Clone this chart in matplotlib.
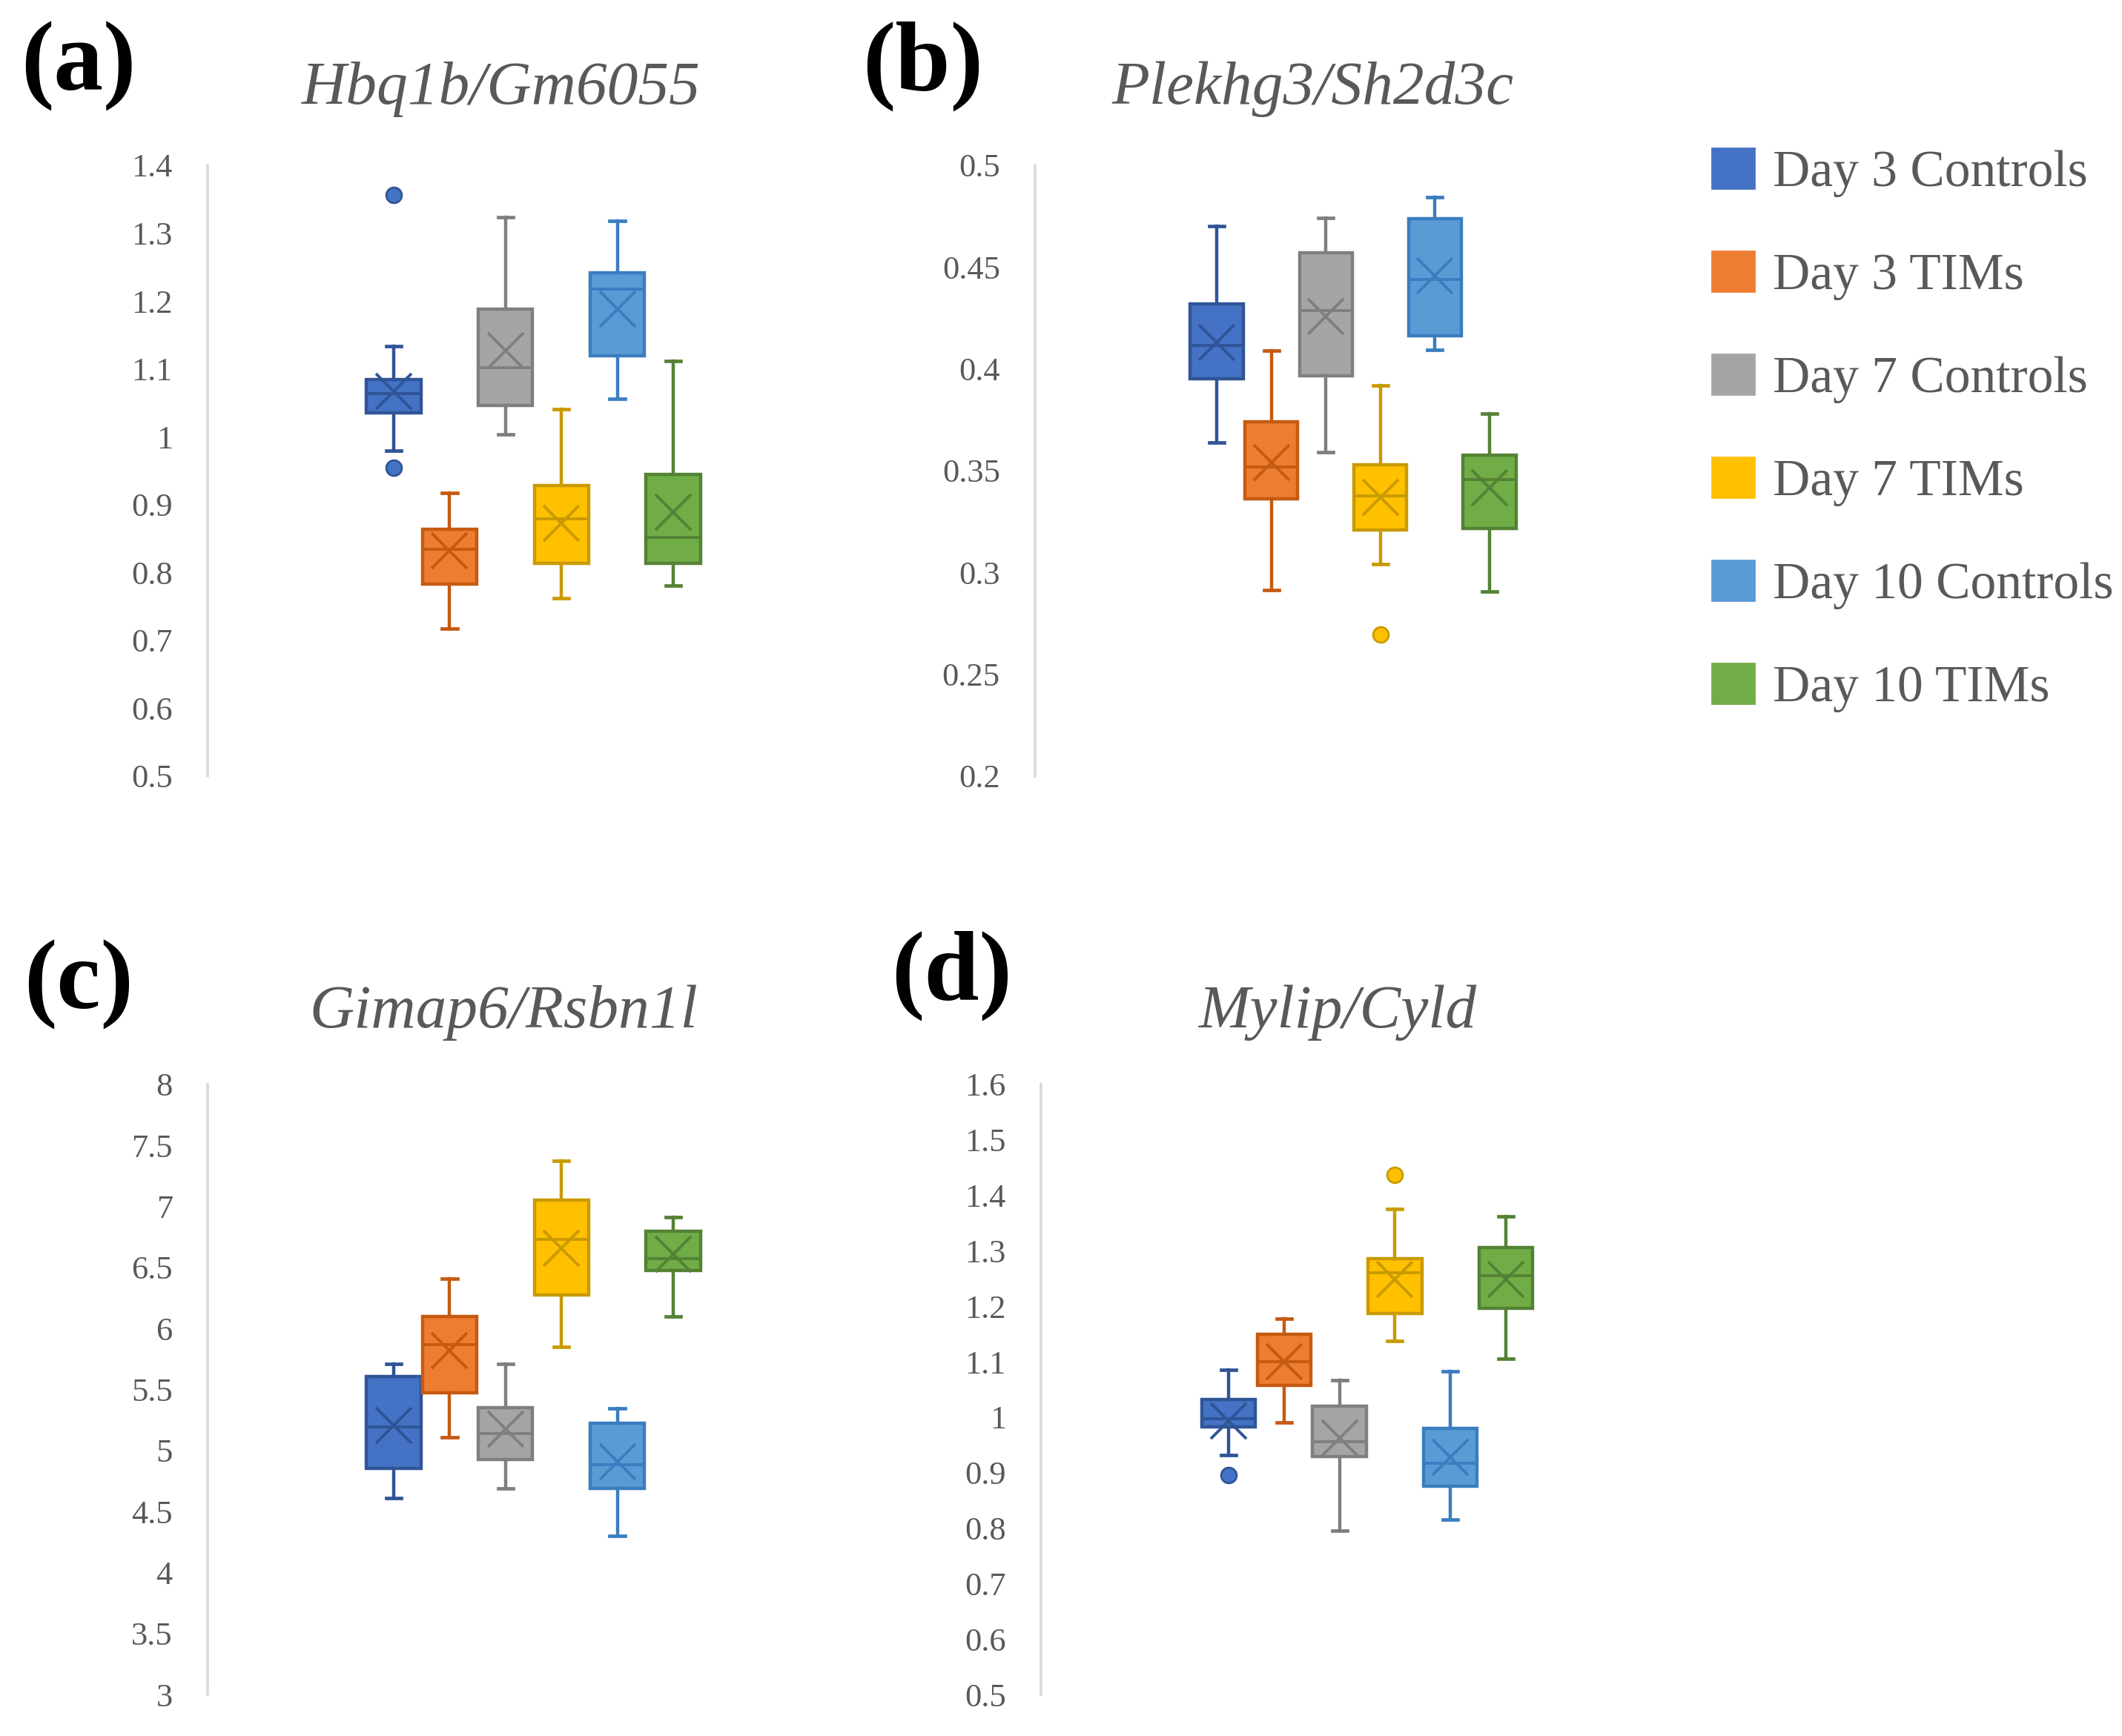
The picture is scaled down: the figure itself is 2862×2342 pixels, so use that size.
import matplotlib
matplotlib.use("Agg")
import matplotlib.pyplot as plt
from matplotlib.patches import Patch

# ---------------- data ----------------
series = ["Day 3 Controls", "Day 3 TIMs", "Day 7 Controls", "Day 7 TIMs",
          "Day 10 Controls", "Day 10 TIMs"]
fills = ["#4472C4", "#ED7D31", "#A5A5A5", "#FFC000", "#5B9BD5", "#70AD47"]
edges = ["#2F5597", "#C55A11", "#7F7F7F", "#C99A00", "#3A7DC0", "#548235"]

titles = ["Hbq1b/Gm6055", "Plekhg3/Sh2d3c", "Gimap6/Rsbn1l", "Mylip/Cyld"]
panel_labels = ["(a)", "(b)", "(c)", "(d)"]

# panel (a)
a_whishi = [1.134, 0.917, 1.324, 1.041, 1.318, 1.112]
a_q3 = [1.084, 0.864, 1.188, 0.928, 1.242, 0.944]
a_med = [1.064, 0.834, 1.102, 0.879, 1.218, 0.852]
a_q1 = [1.035, 0.783, 1.046, 0.814, 1.119, 0.814]
a_whislo = [0.980, 0.717, 1.004, 0.762, 1.056, 0.781]
a_mean = [1.067, 0.832, 1.127, 0.872, 1.188, 0.889]
a_fliers = [[1.356, 0.954], [], [], [], [], []]
a_ticks = [0.5, 0.6, 0.7, 0.8, 0.9, 1.0, 1.1, 1.2, 1.3, 1.4]
a_ticklabels = ["0.5", "0.6", "0.7", "0.8", "0.9", "1", "1.1", "1.2", "1.3", "1.4"]

# panel (b)
b_whishi = [0.470, 0.409, 0.474, 0.392, 0.4845, 0.378]
b_q3 = [0.432, 0.374, 0.457, 0.353, 0.4737, 0.3575]
b_med = [0.4116, 0.352, 0.4287, 0.3377, 0.444, 0.3458]
b_q1 = [0.395, 0.336, 0.3965, 0.321, 0.4164, 0.3216]
b_whislo = [0.364, 0.2915, 0.359, 0.304, 0.4095, 0.2905]
b_mean = [0.413, 0.354, 0.4256, 0.337, 0.4457, 0.3415]
b_fliers = [[], [], [], [0.2694], [], []]
b_ticks = [0.2, 0.25, 0.3, 0.35, 0.4, 0.45, 0.5]
b_ticklabels = ["0.2", "0.25", "0.3", "0.35", "0.4", "0.45", "0.5"]

# panel (c)
c_whishi = [5.712, 6.41, 5.71, 7.377, 5.345, 6.913]
c_q3 = [5.606, 6.10, 5.354, 7.05, 5.226, 6.80]
c_med = [5.195, 5.867, 5.138, 6.728, 4.886, 6.573]
c_q1 = [4.85, 5.47, 4.926, 6.277, 4.69, 6.476]
c_whislo = [4.612, 5.107, 4.687, 5.849, 4.30, 6.10]
c_mean = [5.204, 5.82, 5.173, 6.66, 4.908, 6.61]
c_fliers = [[], [], [], [], [], []]
c_ticks = [3, 3.5, 4, 4.5, 5, 5.5, 6, 6.5, 7, 7.5, 8]
c_ticklabels = ["3", "3.5", "4", "4.5", "5", "5.5", "6", "6.5", "7", "7.5", "8"]

# panel (d)
d_whishi = [1.085, 1.177, 1.067, 1.3755, 1.083, 1.362]
d_q3 = [1.0315, 1.15, 1.02, 1.286, 0.98, 1.306]
d_med = [0.997, 1.10, 0.956, 1.26, 0.917, 1.255]
d_q1 = [0.983, 1.058, 0.929, 1.187, 0.876, 1.197]
d_whislo = [0.932, 0.99, 0.796, 1.138, 0.815, 1.106]
d_mean = [0.993, 1.10, 0.963, 1.248, 0.928, 1.248]
d_fliers = [[0.895], [], [], [1.437], [], []]
d_ticks = [0.5, 0.6, 0.7, 0.8, 0.9, 1.0, 1.1, 1.2, 1.3, 1.4, 1.5, 1.6]
d_ticklabels = ["0.5", "0.6", "0.7", "0.8", "0.9", "1", "1.1", "1.2", "1.3",
                "1.4", "1.5", "1.6"]

panels = [
    (a_whislo, a_q1, a_med, a_q3, a_whishi, a_mean, a_fliers, a_ticks, a_ticklabels),
    (b_whislo, b_q1, b_med, b_q3, b_whishi, b_mean, b_fliers, b_ticks, b_ticklabels),
    (c_whislo, c_q1, c_med, c_q3, c_whishi, c_mean, c_fliers, c_ticks, c_ticklabels),
    (d_whislo, d_q1, d_med, d_q3, d_whishi, d_mean, d_fliers, d_ticks, d_ticklabels),
]

# ---------------- layout (pixels) ----------------
W, H = 2862, 2342
DPI = 200
fig = plt.figure(figsize=(W / DPI, H / DPI), dpi=DPI)
fig.patch.set_facecolor("white")

SERIF = ["Liberation Serif", "DejaVu Serif"]
GRAY_TXT = "#595959"
AX_W = 780

# spine x, top y, bottom y, first box centre x, box spacing (pixels)
geom = [
    (280, 223, 1047, 531, 75.4),
    (1396, 223, 1047, 1641, 73.6),
    (280, 1463, 2286, 531, 75.4),
    (1404, 1463, 2286, 1657, 74.8),
]
title_pos = [(676, 120), (1771, 120), (679, 1366), (1805, 1366)]
label_pos = [(106, 89), (1245, 89), (106, 1328), (1284, 1316)]

for k, (wlo, q1, med, q3, whi, mean, fl, ticks, tlabels) in enumerate(panels):
    sx, top, bot, first, sp = geom[k]
    ax = fig.add_axes([sx / W, 1 - bot / H, AX_W / W, (bot - top) / H])
    ax.set_facecolor("none")
    for i in range(len(series)):
        st = [dict(med=med[i], q1=q1[i], q3=q3[i], whislo=wlo[i], whishi=whi[i],
                   mean=mean[i], fliers=fl[i])]
        ec = edges[i]
        ax.bxp(st, positions=[i], widths=0.97, patch_artist=True, showmeans=True,
               showfliers=True, manage_ticks=False,
               boxprops=dict(facecolor=fills[i], edgecolor=ec, linewidth=1.6),
               medianprops=dict(color=ec, linewidth=1.4),
               whiskerprops=dict(color=ec, linewidth=1.6),
               capprops=dict(color=ec, linewidth=1.7),
               capwidths=0.27,
               meanprops=dict(marker="x", markersize=17, markeredgewidth=1.4,
                              markeredgecolor=ec, markerfacecolor="none"),
               flierprops=dict(marker="o", markersize=7.5, markerfacecolor=fills[i],
                               markeredgecolor=ec, markeredgewidth=1.0))
    left = -(first - sx) / sp
    ax.set_xlim(left, left + AX_W / sp)
    ax.set_ylim(ticks[0], ticks[-1])
    ax.set_yticks(ticks)
    ax.set_yticklabels(tlabels, family=SERIF, fontsize=16, color=GRAY_TXT)
    ax.tick_params(axis="y", length=0, pad=17)
    ax.set_xticks([])
    for s in ["top", "right", "bottom"]:
        ax.spines[s].set_visible(False)
    ax.spines["left"].set_color("#D9D9D9")
    ax.spines["left"].set_linewidth(1.3)

    tx, ty = title_pos[k]
    fig.text(tx / W, 1 - ty / H, titles[k], family=SERIF, style="italic",
             fontsize=30, color=GRAY_TXT, ha="center", va="center")
    lx, ly = label_pos[k]
    fig.text(lx / W, 1 - ly / H, panel_labels[k], family=SERIF, weight="bold",
             fontsize=48, color="black", ha="center", va="center")

handles = [Patch(facecolor=fills[i], edgecolor=fills[i], label=series[i])
           for i in range(len(series))]
leg = fig.legend(handles=handles, loc="upper left",
                 bbox_to_anchor=(2309 / W, 1 - 200 / H), frameon=False,
                 prop=dict(family=SERIF, size=25), labelcolor=GRAY_TXT,
                 handlelength=0.82, handleheight=0.82, handletextpad=0.36,
                 labelspacing=1.05, borderpad=0, borderaxespad=0)

fig.savefig("out.png", dpi=DPI, facecolor="white")
